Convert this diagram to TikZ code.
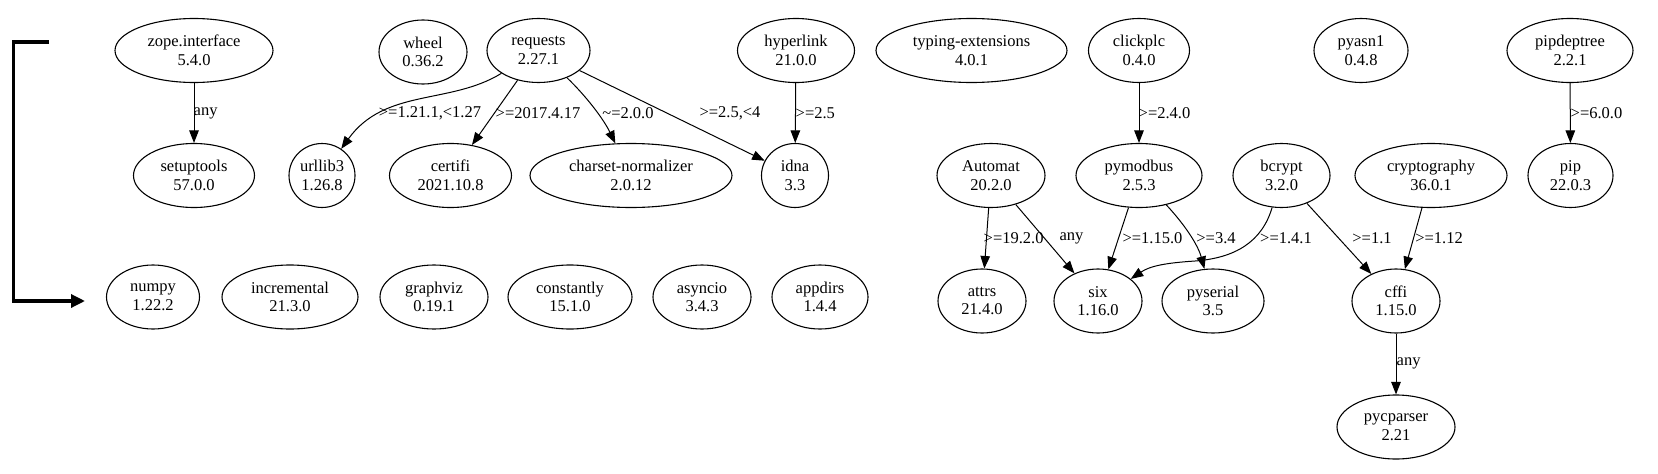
\documentclass[tikz,border=0pt]{standalone}
\usepackage{fontspec}
\setmainfont{Liberation Serif}
\usetikzlibrary{arrows.meta,shapes.geometric}
\tikzset{
  pkg/.style={ellipse, draw, line width=1.1pt, inner sep=0pt, align=center,
    font=\fontsize{16.5}{18.5}\selectfont, minimum height=64pt},
  dep/.style={line width=1pt, -{Triangle[length=12.5pt,width=9.5pt]}},
  lbl/.style={inner sep=0.5pt, font=\fontsize{16.5}{18.5}\selectfont},
  bracket/.style={line width=3.3pt, line join=miter, -{Triangle[length=14pt,width=13pt]}},
}
\begin{document}
\begin{tikzpicture}[x=1pt,y=-1pt]
\useasboundingbox (0,0) rectangle (1658,474);
% row 1
\node[pkg,minimum width=158pt] (zope) at (194,50.5) {zope.interface\\5.4.0};
\node[pkg,minimum width=88pt] (wheel) at (423,52) {wheel\\0.36.2};
\node[pkg,minimum width=103pt] (requests) at (538.5,50.5) {requests\\2.27.1};
\node[pkg,minimum width=117pt] (hyperlink) at (796,50.5) {hyperlink\\21.0.0};
\node[pkg,minimum width=191pt] (typing) at (971.5,50.5) {typing-extensions\\4.0.1};
\node[pkg,minimum width=101pt] (clickplc) at (1139,50.5) {clickplc\\0.4.0};
\node[pkg,minimum width=94pt] (pyasn1) at (1361,50.5) {pyasn1\\0.4.8};
\node[pkg,minimum width=126pt] (pipdeptree) at (1570,50.5) {pipdeptree\\2.2.1};
% row 2
\node[pkg,minimum width=121pt] (setuptools) at (194,175.5) {setuptools\\57.0.0};
\node[pkg,minimum width=66pt] (urllib3) at (322,175.5) {urllib3\\1.26.8};
\node[pkg,minimum width=122pt] (certifi) at (450.5,175.5) {certifi\\2021.10.8};
\node[pkg,minimum width=202pt] (charset) at (631,175.5) {charset-normalizer\\2.0.12};
\node[pkg,minimum width=67pt] (idna) at (795,175.5) {idna\\3.3};
\node[pkg,minimum width=108pt] (automat) at (991,175.5) {Automat\\20.2.0};
\node[pkg,minimum width=126pt] (pymodbus) at (1139,175.5) {pymodbus\\2.5.3};
\node[pkg,minimum width=97pt] (bcrypt) at (1281.5,175.5) {bcrypt\\3.2.0};
\node[pkg,minimum width=152pt] (cryptography) at (1431,175.5) {cryptography\\36.0.1};
\node[pkg,minimum width=85pt] (pip) at (1570.5,175.5) {pip\\22.0.3};
% row 3
\node[pkg,minimum width=93pt] (numpy) at (153,297) {numpy\\1.22.2};
\node[pkg,minimum width=136pt] (incremental) at (290,297) {incremental\\21.3.0};
\node[pkg,minimum width=108pt] (graphviz) at (434,297) {graphviz\\0.19.1};
\node[pkg,minimum width=124pt] (constantly) at (570,297) {constantly\\15.1.0};
\node[pkg,minimum width=98pt] (asyncio) at (702,297) {asyncio\\3.4.3};
\node[pkg,minimum width=96pt] (appdirs) at (820,297) {appdirs\\1.4.4};
\node[pkg,minimum width=88pt] (attrs) at (982,301) {attrs\\21.4.0};
\node[pkg,minimum width=88pt] (six) at (1098,301) {six\\1.16.0};
\node[pkg,minimum width=102pt] (pyserial) at (1213,301) {pyserial\\3.5};
\node[pkg,minimum width=88pt] (cffi) at (1396,301) {cffi\\1.15.0};
% row 4
\node[pkg,minimum width=118pt] (pycparser) at (1396,427) {pycparser\\2.21};
% bracket
\coordinate (bstart) at (49,42);
\coordinate (bcorner) at (13.5,42);
\coordinate (bend) at (85,301);
\draw[bracket] (bstart) -- (bcorner) |- (bend);
% edges
\draw[dep] (zope) -- (setuptools);
\draw[dep] (requests) .. controls (450,105) and (385,88) .. (urllib3);
\draw[dep] (requests) -- (certifi);
\draw[dep] (requests) .. controls (585,95) and (603,118) .. (charset);
\draw[dep] (requests) -- (idna);
\draw[dep] (hyperlink) -- (idna);
\draw[dep] (clickplc) -- (pymodbus);
\draw[dep] (pipdeptree) -- (pip);
\draw[dep] (automat) -- (attrs);
\draw[dep] (automat) -- (six);
\draw[dep] (pymodbus) -- (six);
\draw[dep] (pymodbus) .. controls (1185,225) and (1198,245) .. (pyserial);
\draw[dep] (bcrypt) .. controls (1262,242) and (1235,258) .. (1195,261) .. controls (1165,263) and (1150,266) .. (six);
\draw[dep] (bcrypt) -- (cffi);
\draw[dep] (cryptography) -- (cffi);
\draw[dep] (cffi) -- (pycparser);
% labels
\node[lbl,anchor=west] (l1) at (193,113) {any};
\node[lbl] (l2) at (430,113) {>=1.21.1,<1.27};
\node[lbl] (l3) at (538,113) {>=2017.4.17};
\node[lbl] (l4) at (628,113) {\textasciitilde=2.0.0};
\node[lbl] (l5) at (730,113) {>=2.5,<4};
\node[lbl,anchor=west] (l6) at (795,113) {>=2.5};
\node[lbl,anchor=west] (l7) at (1138,113) {>=2.4.0};
\node[lbl,anchor=west] (l8) at (1570,113) {>=6.0.0};
\node[lbl,anchor=west] (l9) at (983,238) {>=19.2.0};
\node[lbl] (l10) at (1071.5,238) {any};
\node[lbl] (l11) at (1152.5,238) {>=1.15.0};
\node[lbl] (l12) at (1216,238) {>=3.4};
\node[lbl] (l13) at (1286,238) {>=1.4.1};
\node[lbl] (l14) at (1372,238) {>=1.1};
\node[lbl] (l15) at (1439,238) {>=1.12};
\node[lbl,anchor=west] (l16) at (1396,363) {any};
\end{tikzpicture}
\end{document}
